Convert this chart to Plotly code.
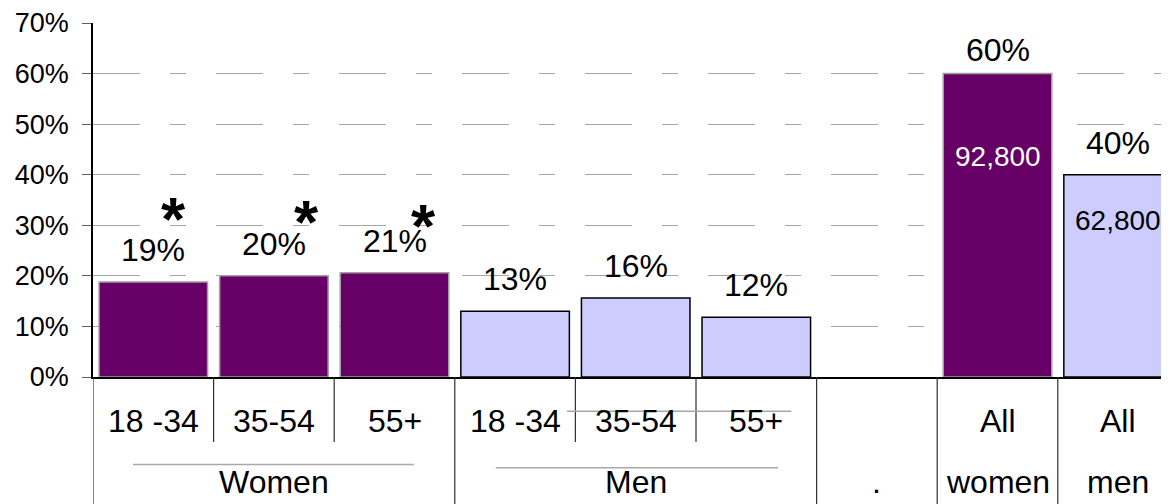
import plotly.graph_objects as go

# ---------------- data ----------------
age_labels = ["18 -34", "35-54", "55+", "18 -34", "35-54", "55+", "", "All", "All"]
group_names = ["Women", "Men", ".", "women", "men"]
group_sizes = [3, 3, 1, 1, 1]

women_pos = [0, 1, 2, 7]
women_vals = [18.8, 20.0, 20.6, 60.0]
women_text = ["19%", "20%", "21%", "60%"]

men_pos = [3, 4, 5, 8]
men_vals = [13.0, 15.6, 11.8, 40.0]
men_text = ["13%", "16%", "12%", "40%"]

count_pos = [7, 8]
count_text = ["92,800", "62,800"]
count_y = [43.7, 31.0]

star_pos = [0, 1, 2]

y_ticks = [0, 10, 20, 30, 40, 50, 60, 70]

# ---------------- styles ----------------
PURPLE = "#660066"
LAVENDER = "#CCCCFF"
FONT = "Liberation Sans, Arial, sans-serif"
BODY = 8  # default page margin of the html body
W, H = 1169 - BODY, 504 - BODY
slot_px = 120.6
plot_w = 1169 - 93
x_max = -0.5 + plot_w / slot_px

fig = go.Figure()
fig.add_trace(go.Bar(x=women_pos, y=women_vals, width=0.9,
                     marker=dict(color=PURPLE, line=dict(color="#A0A0A0", width=1.5)),
                     hoverinfo="skip"))
fig.add_trace(go.Bar(x=men_pos, y=men_vals, width=0.9,
                     marker=dict(color=LAVENDER, line=dict(color="#000000", width=1.5)),
                     hoverinfo="skip"))

ann = []
# value labels above bars
for xs, vs, ts in [(women_pos, women_vals, women_text), (men_pos, men_vals, men_text)]:
    for x, v, t in zip(xs, vs, ts):
        shift = 24 if v > 55 else 32
        ann.append(dict(x=x, y=v, xref="x", yref="y", text=t, showarrow=False,
                        yanchor="middle", yshift=shift,
                        font=dict(family=FONT, size=32, color="black")))
# counts inside big bars
for x, t, yv in zip(count_pos, count_text, count_y):
    col = "white" if x in women_pos else "black"
    ann.append(dict(x=x, y=yv, xref="x", yref="y", text=t, showarrow=False,
                    yanchor="middle", font=dict(family=FONT, size=28, color=col)))
# significance stars
star_dx = [0.17, 0.27, 0.24]
star_y = [32.6, 32.0, 31.2]
for x, dx, yv in zip(star_pos, star_dx, star_y):
    ann.append(dict(x=x + dx, y=yv, xref="x", yref="y", text="<b>*</b>", showarrow=False,
                    yanchor="middle", yshift=-6,
                    font=dict(family=FONT, size=62, color="black")))

# category labels, row 1
for i, t in enumerate(age_labels):
    if t:
        ann.append(dict(x=i, y=-0.1253, xref="x", yref="paper", text=t, showarrow=False,
                        yanchor="middle", font=dict(family=FONT, size=32, color="black")))

# group labels, row 2 + divider lines
shapes = []
start = 0
for name, size in zip(group_names, group_sizes):
    center = start + (size - 1) / 2
    ann.append(dict(x=center, y=-0.298, xref="x", yref="paper", text=name, showarrow=False,
                    yanchor="middle", font=dict(family=FONT, size=32, color="black")))
    shapes.append(dict(type="line", xref="x", yref="paper", x0=start - 0.5, x1=start - 0.5,
                       y0=0, y1=-0.37, line=dict(color="#303030", width=1.2)))
    for k in range(1, size):
        shapes.append(dict(type="line", xref="x", yref="paper",
                           x0=start + k - 0.5, x1=start + k - 0.5,
                           y0=0, y1=-0.1838, line=dict(color="#303030", width=1.2)))
    start += size

# grey underline strokes in the label area
shapes.append(dict(type="line", xref="x", yref="paper", x0=-0.168, x1=2.16,
                   y0=-0.2471, y1=-0.2471, line=dict(color="#A8A8A8", width=1.5)))
shapes.append(dict(type="line", xref="x", yref="paper", x0=2.84, x1=5.18,
                   y0=-0.2563, y1=-0.2563, line=dict(color="#A8A8A8", width=1.5)))
shapes.append(dict(type="line", xref="x", yref="paper", x0=3.43, x1=5.29,
                   y0=-0.0967, y1=-0.0967, line=dict(color="#A8A8A8", width=1.5)))

fig.update_layout(
    width=W, height=H,
    margin=dict(l=93 - BODY, r=0, t=18 - BODY, b=127, pad=0),
    paper_bgcolor="white", plot_bgcolor="white",
    showlegend=False, barmode="overlay",
    annotations=ann, shapes=shapes,
    font=dict(family=FONT, color="black"),
)
fig.update_xaxes(range=[-0.5, x_max], showticklabels=False, showgrid=False,
                 zeroline=False, showline=True, linecolor="black", linewidth=1.5,
                 ticks="", fixedrange=True)
fig.update_yaxes(range=[0, 70], tickvals=y_ticks, ticktext=[f"{v}%" for v in y_ticks],
                 showgrid=True, gridcolor="#A6A6A6", gridwidth=1,
                 griddash="47px,30px,16px,30px",
                 zeroline=False, showline=True, linecolor="black", linewidth=1.5,
                 ticks="outside", ticklen=9, tickcolor="#606060", ticklabelstandoff=8,
                 ticklabeloverflow="allow",
                 tickfont=dict(family=FONT, size=27, color="black"), fixedrange=True)

fig.write_html("out.html")
